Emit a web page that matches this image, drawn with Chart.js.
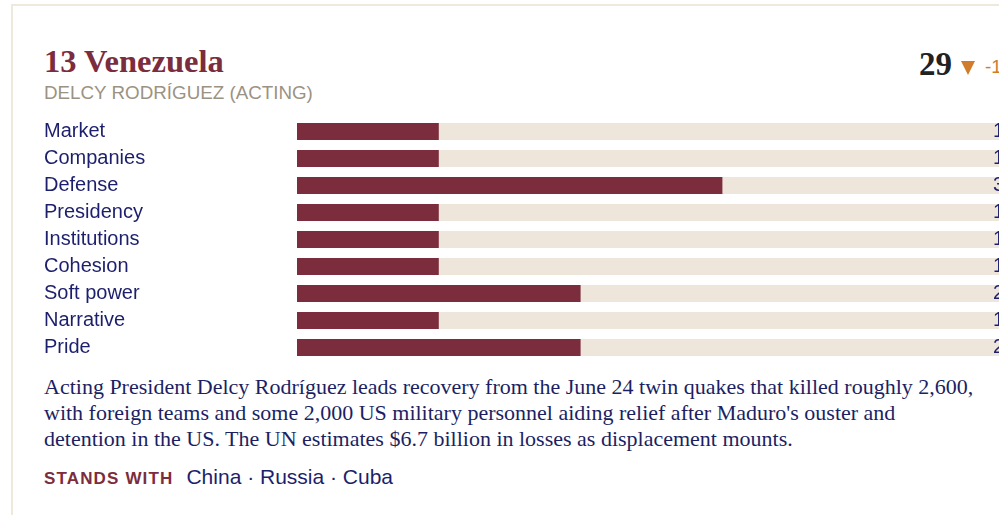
<!DOCTYPE html>
<html>
<head>
<meta charset="utf-8">
<script src="https://cdn.jsdelivr.net/npm/chart.js@4"></script>
<style>
  html, body { margin: 0; padding: 0; background: #fff; overflow: hidden; width: 999px; height: 515px; }
  .card { position: absolute; left: 11px; top: 4px; width: 1100px; height: 600px; border: 2px solid #efe9dd; border-right: none; }
  .title { position: absolute; left: 44px; top: 45px; font: bold 32.5px/32px 'Liberation Serif', 'Times New Roman', serif; color: #7b2c3d; white-space: nowrap; }
  .leader { position: absolute; left: 44px; top: 84px; font: 18.8px/18px 'Liberation Sans', Arial, sans-serif; color: #9b9283; white-space: nowrap; }
  .score { position: absolute; left: 919px; top: 48px; font: bold 33px/32px 'Liberation Serif', 'Times New Roman', serif; color: #222; white-space: nowrap; }
  .tri { position: absolute; left: 961px; top: 61px; width: 0; height: 0; border-left: 7.5px solid transparent; border-right: 7.5px solid transparent; border-top: 14px solid #d07c2c; }
  .delta { position: absolute; left: 985px; top: 57px; font: 19px/19px 'Liberation Sans', Arial, sans-serif; color: #d07c2c; white-space: nowrap; }
  #chartWrap { position: absolute; left: 44px; top: 118px; width: 1000px; height: 243px; }
  .note { position: absolute; left: 44px; top: 374px; width: 932px; font: 22px/26px 'Liberation Serif', 'Times New Roman', serif; color: #1c1f63; }
  .allies { position: absolute; left: 44px; top: 465px; white-space: nowrap; font: 21px/24px 'Liberation Sans', Arial, sans-serif; color: #1c1f6b; }
  .allies b { font-size: 17px; letter-spacing: 1.15px; color: #7b2c3d; margin-right: 13px; }
</style>
</head>
<body>
<div class="card"></div>
<div class="title" id="title"></div>
<div class="leader" id="leader"></div>
<div class="score"><span id="score"></span></div>
<div class="tri"></div>
<div class="delta" id="delta"></div>
<div id="chartWrap"><canvas id="barChart" width="1000" height="243"></canvas></div>
<div class="note" id="note"></div>
<div class="allies"><b>STANDS WITH</b><span id="allies"></span></div>

<script>
// --- Data ---
const categories = ['Market', 'Companies', 'Defense', 'Presidency', 'Institutions', 'Cohesion', 'Soft power', 'Narrative', 'Pride'];
const scores = [1, 1, 3, 1, 1, 1, 2, 1, 2];
const trackMax = 5;

const titleText = '13 Venezuela';
const leaderText = 'DELCY RODRÍGUEZ (ACTING)';
const totalScore = '29';
const scoreChange = '-1';
const noteText = "Acting President Delcy Rodríguez leads recovery from the June 24 twin quakes that killed roughly 2,600, with foreign teams and some 2,000 US military personnel aiding relief after Maduro's ouster and detention in the US. The UN estimates $6.7 billion in losses as displacement mounts.";
const allies = ['China', 'Russia', 'Cuba'];

const MAROON = '#7b2c3d';
const TRACK = '#eee6db';
const NAVY = '#1c1f6b';

// --- Text ---
document.getElementById('title').innerText = titleText;
document.getElementById('leader').innerText = leaderText;
document.getElementById('score').innerText = totalScore;
document.getElementById('delta').innerText = scoreChange;
document.getElementById('note').innerText = noteText;
document.getElementById('allies').innerText = allies.join(' · ');

// --- Plugins ---
const trackPlugin = {
    id: 'track',
    beforeDatasetsDraw(chart) {
        const ctx = chart.ctx;
        const x = chart.scales.x;
        const meta = chart.getDatasetMeta(0);
        ctx.save();
        ctx.fillStyle = TRACK;
        meta.data.forEach(bar => {
            const left = x.getPixelForValue(0);
            ctx.fillRect(left, bar.y - bar.height / 2, x.getPixelForValue(trackMax) - left, bar.height);
        });
        ctx.restore();
    }
};

const valueLabels = {
    id: 'valueLabels',
    afterDatasetsDraw(chart) {
        const ctx = chart.ctx;
        const x = chart.scales.x;
        const meta = chart.getDatasetMeta(0);
        ctx.save();
        ctx.fillStyle = NAVY;
        ctx.font = "20px 'Liberation Sans', Arial, sans-serif";
        ctx.textBaseline = 'middle';
        ctx.textAlign = 'left';
        meta.data.forEach((bar, i) => {
            ctx.fillText(String(scores[i]), x.getPixelForValue(trackMax) - 13, bar.y);
        });
        ctx.restore();
    }
};

// --- Chart ---
new Chart(document.getElementById('barChart'), {
    type: 'bar',
    data: {
        labels: categories,
        datasets: [{
            data: scores,
            backgroundColor: MAROON,
            borderWidth: 0,
            barPercentage: 0.63,
            categoryPercentage: 1
        }]
    },
    options: {
        indexAxis: 'y',
        responsive: false,
        animation: false,
        devicePixelRatio: 1,
        layout: { padding: { left: 0, right: 38, top: 0, bottom: 0 } },
        plugins: { legend: { display: false }, tooltip: { enabled: false } },
        scales: {
            x: { display: false, min: 0, max: trackMax },
            y: {
                grid: { display: false },
                border: { display: false },
                ticks: {
                    crossAlign: 'far',
                    color: NAVY,
                    padding: 0,
                    font: { family: "'Liberation Sans', Arial, sans-serif", size: 20 }
                },
                afterFit(scale) {
                    // fixed label column, no extra top/bottom room for tick text
                    scale.width = 253;
                    scale.paddingTop = 0;
                    scale.paddingBottom = 0;
                }
            }
        }
    },
    plugins: [trackPlugin, valueLabels]
});
</script>
</body>
</html>
